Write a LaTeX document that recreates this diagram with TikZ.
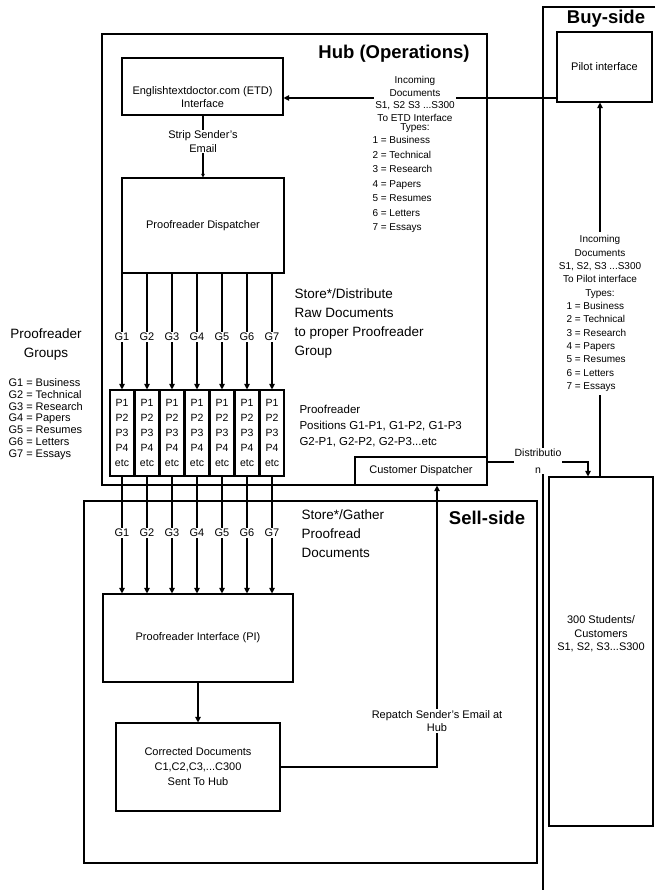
\documentclass[tikz,border=0pt]{standalone}
\usepackage{fontspec}
\setmainfont{Liberation Sans}
\usetikzlibrary{arrows.meta}
\begin{document}
\begin{tikzpicture}[x=1pt,y=-1pt,
  box/.style={draw, line width=1.1pt, inner sep=2pt, align=center},
  arr/.style={line width=1.1pt, -{Triangle[length=5.5pt,width=5.5pt]}},
  smallarr/.style={line width=1.1pt, -{Triangle[length=3.5pt,width=3.5pt]}},
  ln/.style={line width=1.1pt},
  boxfont/.style={font=\fontsize{11}{13.5}\selectfont},
  listfont/.style={font=\fontsize{10}{12.7}\selectfont},
  bigfont/.style={font=\fontsize{13.5}{19}\selectfont},
  titlefont/.style={font=\bfseries\fontsize{18.5}{22}\selectfont},
  cellfont/.style={font=\fontsize{10.5}{15}\selectfont},
  gfont/.style={font=\fontsize{11}{13}\selectfont},
  lbl/.style={fill=white, inner sep=1pt},
]
\fill[white] (0,0) rectangle (655,890);
\useasboundingbox (0,0) rectangle (655,890);

% regions
\node[box, minimum width=385pt, minimum height=451pt] (hub) at (294.5,259.5) {};
\node[box, minimum width=453pt, minimum height=362pt] (sell) at (310.5,682) {};
\draw[ln] (655,7) -- (543,7) -- (543,890);

% titles
\node[titlefont] (hubtitle) at (394,54) {Hub (Operations)};
\node[titlefont] (buytitle) at (606,19) {Buy-side};
\node[titlefont] (selltitle) at (487,518) {Sell-side};

% boxes
\node[box, minimum width=161pt, minimum height=57pt] (etd) at (202.5,86.5) {};
\node[boxfont, align=center] (etdtext) at (202.5,97) {Englishtextdoctor.com (ETD)\\Interface};
\node[box, boxfont, minimum width=162pt, minimum height=95pt] (disp) at (203,225.5) {Proofreader Dispatcher};
\node[box, boxfont, minimum width=95pt, minimum height=70pt] (pilot) at (604.5,67) {Pilot interface};
\node[box, minimum width=104pt, minimum height=349pt] (stud) at (601,651.5) {};
\node[boxfont, align=center] (studtext) at (601,634) {300 Students/\\Customers\\S1, S2, S3...S300};
\node[box, boxfont, minimum width=190pt, minimum height=88pt] (pi) at (198,638) {Proofreader Interface (PI)};
\node[box, align=center, font=\fontsize{11}{15}\selectfont, minimum width=164pt, minimum height=88pt] (corr) at (198,767) {Corrected Documents\\C1,C2,C3,...C300\\Sent To Hub};
\node[box, boxfont, minimum width=132pt, minimum height=28pt] (cdisp) at (421,471) {Customer Dispatcher};

% proofreader cells
\foreach \k in {1,...,7} {
  \node[box, cellfont, minimum width=24pt, minimum height=86pt, inner sep=0pt] (c\k) at ({97+25*\k},433) {P1\\P2\\P3\\P4\\etc};
}

% dispatcher -> cells
\foreach \k in {1,...,7} {
  \draw[arr] (disp.south -| c\k) -- (c\k.north) node[lbl, gfont, pos=0.547] {G\k};
}
% cells -> proofreader interface
\foreach \k in {1,...,7} {
  \draw[arr] (c\k.south) -- (c\k.south |- pi.north) node[lbl, gfont, pos=0.483] {G\k};
}

% PI -> corrected
\draw[arr] (pi.south) -- (corr.north);

% repatch to customer dispatcher
\coordinate (rp) at (437,767);
\draw[arr] (corr.east) -- (rp) -- (rp |- cdisp.south);
\node[lbl, boxfont, align=center] (rptext) at (437,721) {Repatch Sender's Email at\\Hub};

% distribution
\coordinate (dd) at (588,462);
\draw[arr] (cdisp.east |- dd) -- (dd) -- (dd |- stud.north);
\node[lbl, align=center, font=\fontsize{10.5}{17}\selectfont] (distext) at (538,461) {Distributio\\n};

% ETD -> dispatcher
\coordinate (sx) at (203,0);
\draw[smallarr] (etd.south -| sx) -- (disp.north -| sx) node[lbl, boxfont, align=center, pos=0.42] {Strip Sender's\\Email};

% pilot -> ETD
\coordinate (ya) at (0,98);
\draw[arr] (pilot.west |- ya) -- (etd.east |- ya);
\node[fill=white, inner sep=1pt, listfont, align=center] (hubhead) at (415,99) {Incoming\\Documents\\S1, S2 S3 ...S300\\To ETD Interface};
\node[listfont] (hubtypes) at (415,128) {Types:};
\node[font=\fontsize{10}{14.5}\selectfont, align=left, anchor=west] (hublist) at (369,184.5) {1 = Business\\2 = Technical\\3 = Research\\4 = Papers\\5 = Resumes\\6 = Letters\\7 = Essays};

% buy-side incoming
\node[font=\fontsize{10}{13.3}\selectfont, align=center] (buyhead) at (600,267) {Incoming\\Documents\\S1, S2, S3 ...S300\\To Pilot interface\\Types:};
\node[font=\fontsize{10}{13.3}\selectfont, align=left, anchor=west] (buylist) at (563,347) {1 = Business\\2 = Technical\\3 = Research\\4 = Papers\\5 = Resumes\\6 = Letters\\7 = Essays};
\coordinate (bx) at (600,0);
\draw[arr] (buyhead.north -| bx) -- (pilot.south -| bx);
\draw[ln] (buylist.south -| bx) -- (stud.north -| bx);

% left legend
\node[bigfont, align=center] (pgroups) at (46,345) {Proofreader\\Groups};
\node[font=\fontsize{11}{11.8}\selectfont, align=left, anchor=west] (glist) at (5,419) {G1 = Business\\G2 = Technical\\G3 = Research\\G4 = Papers\\G5 = Resumes\\G6 = Letters\\G7 = Essays};

% notes
\node[bigfont, align=left, anchor=west] (storedist) at (291,323.5) {Store*/Distribute\\Raw Documents\\to proper Proofreader\\Group};
\node[font=\fontsize{11.5}{16}\selectfont, align=left, anchor=west] (ppos) at (296,426) {Proofreader\\Positions G1-P1, G1-P2, G1-P3\\G2-P1, G2-P2, G2-P3...etc};
\node[bigfont, align=left, anchor=west] (gather) at (298,534) {Store*/Gather\\Proofread\\Documents};
\end{tikzpicture}
\end{document}
